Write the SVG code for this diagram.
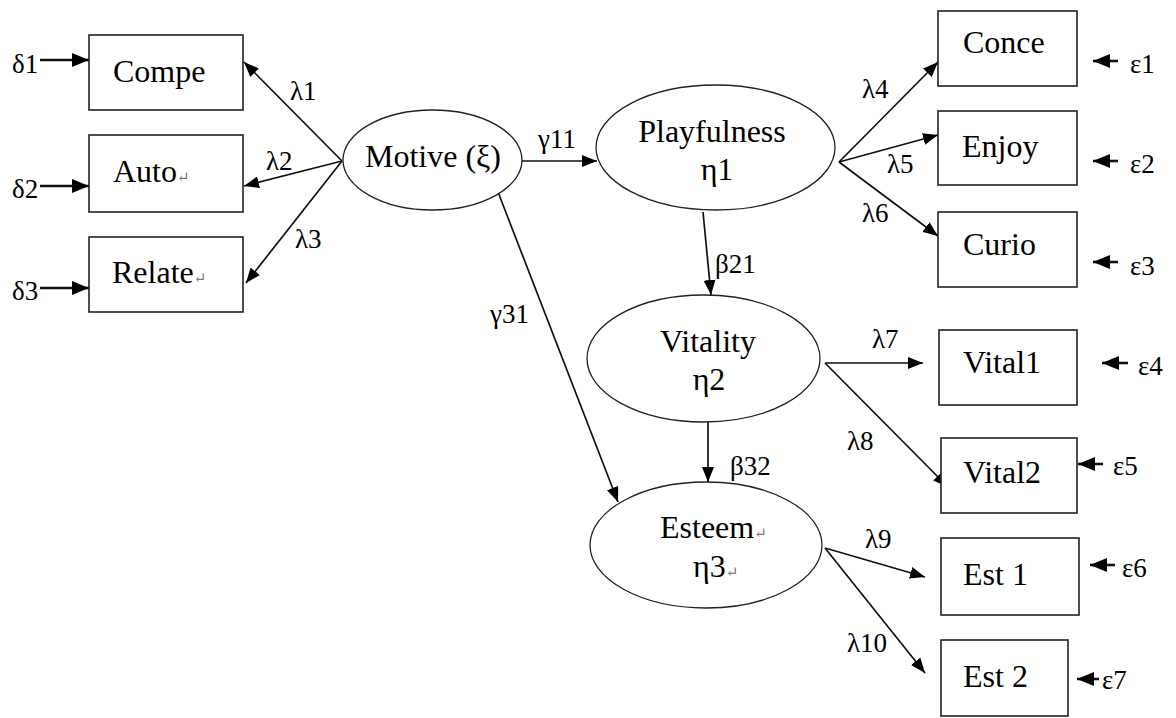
<svg xmlns="http://www.w3.org/2000/svg" width="1176" height="718" viewBox="0 0 1176 718">
<style>
text{font-family:"Liberation Serif","DejaVu Serif",serif;fill:#000}
.n{font-size:32px}
.l{font-size:27px}
.r{font-size:15px;fill:#777}
.box{fill:#fff;stroke:#222;stroke-width:1.6}
.ell{fill:#fff;stroke:#222;stroke-width:1.3}
.c{stroke:#111;stroke-width:1.7;fill:none}
.e{stroke:#111;stroke-width:2.6;fill:none}
</style>
<defs>
<marker id="ah" markerUnits="userSpaceOnUse" markerWidth="16" markerHeight="12" refX="15" refY="6" orient="auto">
<path d="M0,0 L15,6 L0,12 z" fill="#000"/>
</marker>
<marker id="ah2" markerUnits="userSpaceOnUse" markerWidth="18" markerHeight="14" refX="17" refY="7" orient="auto">
<path d="M0,0 L17,7 L0,14 z" fill="#000"/>
</marker>
</defs>
<g id="connectors">
<line class="e" x1="40" y1="60" x2="89" y2="60" marker-end="url(#ah2)"/>
<line class="e" x1="40" y1="186" x2="89" y2="186" marker-end="url(#ah2)"/>
<line class="e" x1="40" y1="288" x2="89" y2="288" marker-end="url(#ah2)"/>
<line class="c" x1="342" y1="161" x2="244" y2="62" marker-end="url(#ah)"/>
<line class="c" x1="342" y1="161" x2="244" y2="186" marker-end="url(#ah)"/>
<line class="c" x1="342" y1="161" x2="246" y2="283" marker-end="url(#ah)"/>
<line class="c" x1="522" y1="161" x2="597" y2="161" marker-end="url(#ah)"/>
<line class="c" x1="498" y1="192" x2="618" y2="502" marker-end="url(#ah)"/>
<line class="c" x1="703" y1="212" x2="711" y2="295" marker-end="url(#ah)"/>
<line class="c" x1="708" y1="422" x2="708" y2="482" marker-end="url(#ah)"/>
<line class="c" x1="839" y1="162" x2="938" y2="62" marker-end="url(#ah)"/>
<line class="c" x1="839" y1="162" x2="938" y2="135" marker-end="url(#ah)"/>
<line class="c" x1="839" y1="162" x2="938" y2="236" marker-end="url(#ah)"/>
<line class="c" x1="825" y1="363" x2="923" y2="363" marker-end="url(#ah)"/>
<line class="c" x1="825" y1="363" x2="948" y2="487" marker-end="url(#ah)"/>
<line class="c" x1="825" y1="548" x2="925" y2="577" marker-end="url(#ah)"/>
<line class="c" x1="825" y1="548" x2="925" y2="673" marker-end="url(#ah)"/>
<line class="e" x1="1118" y1="61" x2="1093" y2="61" marker-end="url(#ah2)"/>
<line class="e" x1="1118" y1="161" x2="1093" y2="161" marker-end="url(#ah2)"/>
<line class="e" x1="1118" y1="262" x2="1093" y2="262" marker-end="url(#ah2)"/>
<line class="e" x1="1128" y1="363" x2="1102" y2="363" marker-end="url(#ah2)"/>
<line class="e" x1="1103" y1="464" x2="1078" y2="464" marker-end="url(#ah2)"/>
<line class="e" x1="1115" y1="565" x2="1090" y2="565" marker-end="url(#ah2)"/>
<line class="e" x1="1099" y1="679" x2="1077" y2="679" marker-end="url(#ah2)"/>
</g>
<g id="labels">
<text class="l" x="12" y="73">δ1</text>
<text class="l" x="12" y="198">δ2</text>
<text class="l" x="12" y="300">δ3</text>
<text class="l" x="290" y="100">λ1</text>
<text class="l" x="266" y="170">λ2</text>
<text class="l" x="295" y="248">λ3</text>
<text class="l" x="538" y="148">γ11</text>
<text class="l" x="490" y="323">γ31</text>
<text class="l" x="715" y="273">β21</text>
<text class="l" x="730" y="475">β32</text>
<text class="l" x="862" y="98">λ4</text>
<text class="l" x="887" y="173">λ5</text>
<text class="l" x="862" y="222">λ6</text>
<text class="l" x="872" y="348">λ7</text>
<text class="l" x="847" y="450">λ8</text>
<text class="l" x="865" y="548">λ9</text>
<text class="l" x="847" y="652">λ10</text>
<text class="l" x="1130" y="73">ε1</text>
<text class="l" x="1130" y="173">ε2</text>
<text class="l" x="1130" y="275">ε3</text>
<text class="l" x="1138" y="375">ε4</text>
<text class="l" x="1113" y="475">ε5</text>
<text class="l" x="1122" y="577">ε6</text>
<text class="l" x="1102" y="689">ε7</text>
</g>
<g id="Compe"><rect class="box" x="89" y="35" width="154" height="75"/><text class="n" x="113" y="82">Compe</text></g>
<g id="Auto"><rect class="box" x="89" y="135" width="154" height="77"/><text class="n" x="113" y="182">Auto<tspan class="r">↵</tspan></text></g>
<g id="Relate"><rect class="box" x="89" y="237" width="154" height="75"/><text class="n" x="112" y="283">Relate<tspan class="r">↵</tspan></text></g>
<g id="Motive"><ellipse class="ell" cx="432.5" cy="160" rx="89.5" ry="50"/><text class="n" x="433" y="167" text-anchor="middle">Motive (ξ)</text></g>
<g id="Playfulness"><ellipse class="ell" cx="715.5" cy="147.5" rx="119.5" ry="62.5"/><text class="n" x="712" y="142" text-anchor="middle">Playfulness</text><text class="n" x="717" y="180" text-anchor="middle">η1</text></g>
<g id="Vitality"><ellipse class="ell" cx="703.5" cy="358.5" rx="116.5" ry="63.5"/><text class="n" x="708" y="352" text-anchor="middle">Vitality</text><text class="n" x="709" y="390" text-anchor="middle">η2</text></g>
<g id="Esteem"><ellipse class="ell" cx="706" cy="545" rx="116" ry="63"/><text class="n" x="660" y="538">Esteem<tspan class="r">↵</tspan></text><text class="n" x="693" y="577">η3<tspan class="r">↵</tspan></text></g>
<g id="Conce"><rect class="box" x="938" y="11" width="139" height="75"/><text class="n" x="963" y="53">Conce</text></g>
<g id="Enjoy"><rect class="box" x="938" y="111" width="139" height="74"/><text class="n" x="962" y="157">Enjoy</text></g>
<g id="Curio"><rect class="box" x="938" y="212" width="139" height="75"/><text class="n" x="963" y="255">Curio</text></g>
<g id="Vital1"><rect class="box" x="939" y="330" width="138" height="75"/><text class="n" x="963" y="373">Vital1</text></g>
<g id="Vital2"><rect class="box" x="941" y="438" width="136" height="75"/><text class="n" x="963" y="483">Vital2</text></g>
<g id="Est1"><rect class="box" x="941" y="538" width="138" height="77"/><text class="n" x="963" y="585">Est 1</text></g>
<g id="Est2"><rect class="box" x="941" y="640" width="127" height="76"/><text class="n" x="963" y="687">Est 2</text></g>
</svg>
